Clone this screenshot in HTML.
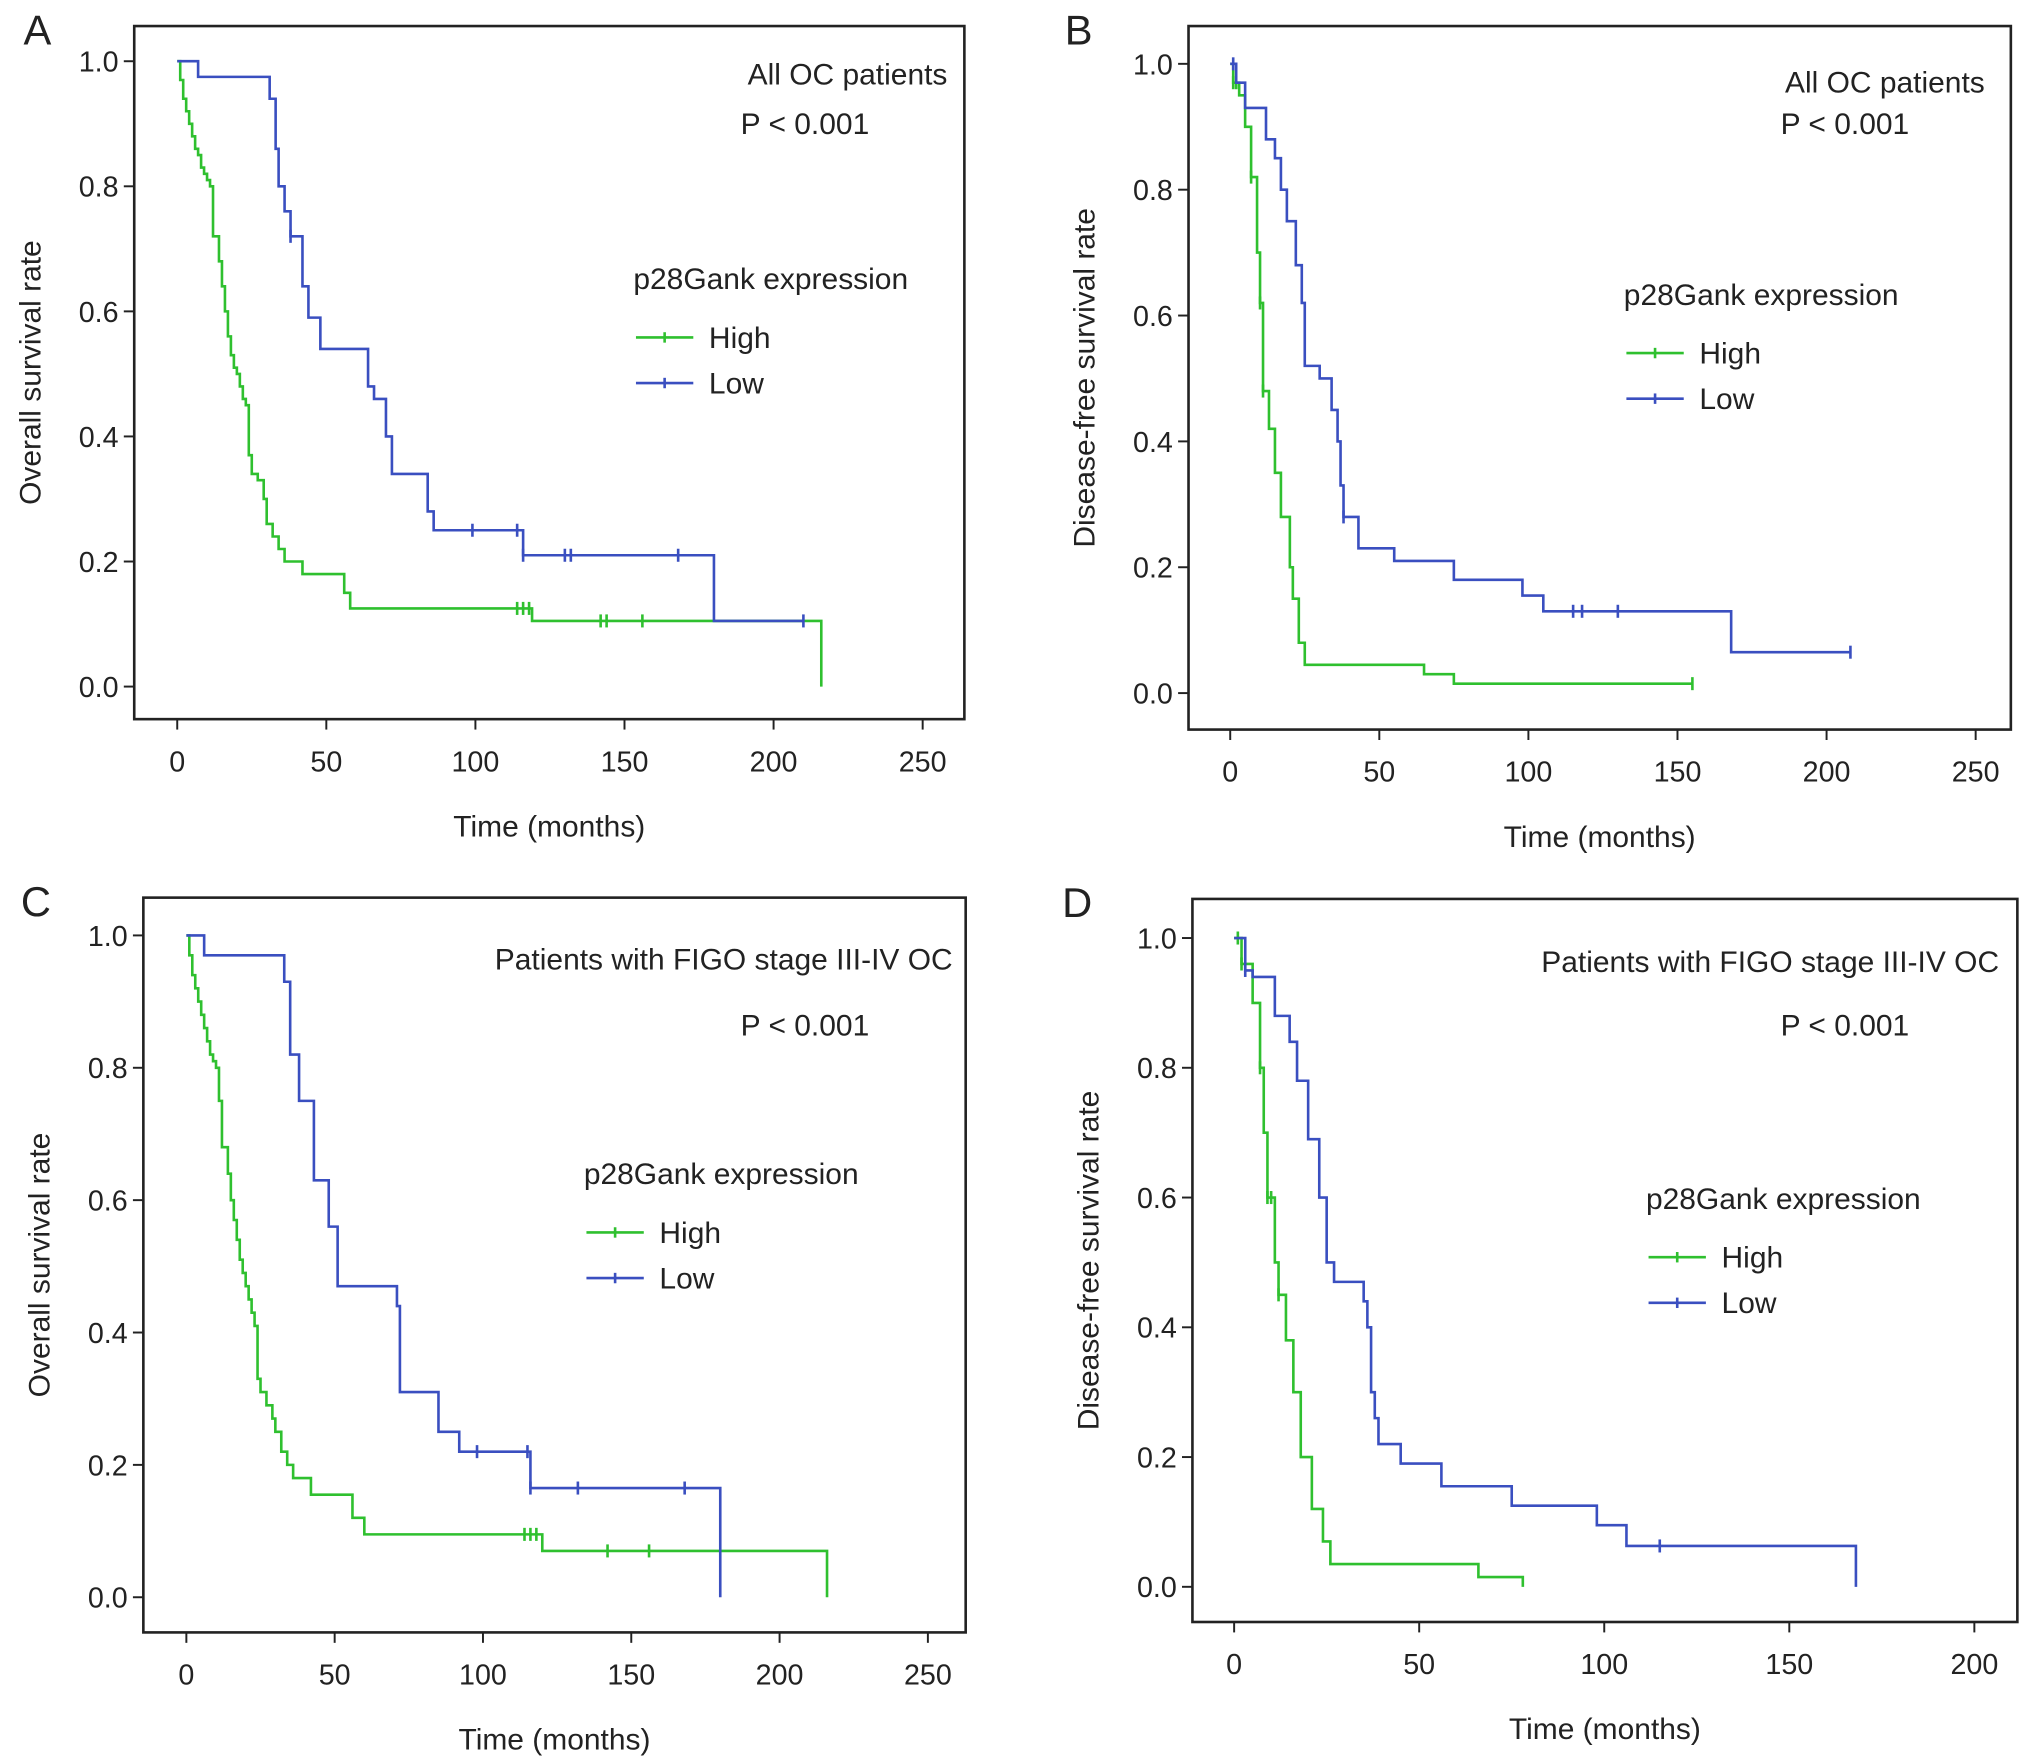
<!DOCTYPE html>
<html><head><meta charset="utf-8"><style>
html,body{margin:0;padding:0;background:#fff}
svg{display:block}
text{font-family:"Liberation Sans",sans-serif;fill:#222}
</style></head><body>
<svg id="fig" width="2033" height="1764" viewBox="0 0 1560 1354" preserveAspectRatio="none" xmlns="http://www.w3.org/2000/svg"></svg>
<script>
// Panel A data (Overall survival, all OC)
const aHighT=[0,1,2,3,4,5,6,7,8,9,10,11,12,14,15,16,17,18,19,20,21,22,23,24,25,27,29,30,32,34,36,42,56,58,119,216];
const aHighS=[1.0,0.97,0.94,0.92,0.90,0.88,0.86,0.85,0.83,0.82,0.81,0.80,0.72,0.68,0.64,0.60,0.56,0.53,0.51,0.50,0.48,0.46,0.45,0.37,0.34,0.33,0.30,0.26,0.24,0.22,0.20,0.18,0.15,0.125,0.105,0.0];
const aHighC=[114,116,118,142,144,156];
const aLowT=[0,7,31,33,34,36,38,42,44,48,52,64,66,70,72,84,86,92,116,180,210];
const aLowS=[1.0,0.975,0.94,0.86,0.80,0.76,0.72,0.64,0.59,0.54,0.54,0.48,0.46,0.40,0.34,0.28,0.25,0.25,0.21,0.105,0.105];
const aLowC=[38,99,114,116,130,132,168,210];
// Panel B data (DFS, all OC)
const bHighT=[0,1,3,5,7,9,10,11,13,15,17,20,21,23,25,65,75,155];
const bHighS=[1.0,0.97,0.95,0.90,0.82,0.70,0.62,0.48,0.42,0.35,0.28,0.20,0.15,0.08,0.045,0.03,0.015,0.015];
const bHighC=[1,2,7,10,11,155];
const bLowT=[0,2,5,12,15,17,19,22,24,25,30,34,36,37,38,43,55,75,98,105,168,208];
const bLowS=[1.0,0.97,0.93,0.88,0.85,0.80,0.75,0.68,0.62,0.52,0.50,0.45,0.40,0.33,0.28,0.23,0.21,0.18,0.155,0.13,0.065,0.065];
const bLowC=[1,38,115,118,130,208];
// Panel C data (OS, FIGO III-IV)
const cHighT=[0,1,2,3,4,5,6,7,8,9,10,11,12,14,15,16,17,18,19,20,21,22,23,24,25,27,29,30,32,34,36,42,56,60,120,216];
const cHighS=[1.0,0.97,0.94,0.92,0.90,0.88,0.86,0.84,0.82,0.81,0.80,0.75,0.68,0.64,0.60,0.57,0.54,0.51,0.49,0.47,0.45,0.43,0.41,0.33,0.31,0.29,0.27,0.25,0.22,0.20,0.18,0.155,0.12,0.095,0.07,0.0];
const cHighC=[114,116,118,142,156];
const cLowT=[0,6,33,35,38,43,48,51,64,71,72,84,85,92,116,180];
const cLowS=[1.0,0.97,0.93,0.82,0.75,0.63,0.56,0.47,0.47,0.44,0.31,0.31,0.25,0.22,0.165,0.0];
const cLowC=[98,115,116,132,168];
// Panel D data (DFS, FIGO III-IV)
const dHighT=[0,2,5,7,8,9,11,12,14,16,18,21,24,26,66,78];
const dHighS=[1.0,0.96,0.90,0.80,0.70,0.60,0.50,0.45,0.38,0.30,0.20,0.12,0.07,0.035,0.015,0.0];
const dHighC=[1,2,7,9,10,12];
const dLowT=[0,3,5,11,15,17,20,23,25,27,32,35,36,37,38,39,45,56,75,98,106,168];
const dLowS=[1.0,0.95,0.94,0.88,0.84,0.78,0.69,0.60,0.50,0.47,0.47,0.44,0.40,0.30,0.26,0.22,0.19,0.155,0.125,0.095,0.063,0.0];
const dLowC=[3,115];
const yTicks=[0,0.2,0.4,0.6,0.8,1.0];
const yTickLabels=["0.0","0.2","0.4","0.6","0.8","1.0"];

const NS="http://www.w3.org/2000/svg";
const svg=document.getElementById('fig');
function el(tag,attrs,parent,txt){const e=document.createElementNS(NS,tag);for(const k in attrs)e.setAttribute(k,attrs[k]);if(txt!==undefined)e.textContent=txt;(parent||svg).appendChild(e);return e;}
const GREEN="#2fc02f",BLUE="#3a4fc0";

function panel(p){
  const g=el('g',{});
  
  
  const x=t=>p.x0+t*p.xs, y=s=>p.y0-s*p.ys;
  const box=el('rect',{x:p.bx,y:p.by,width:p.bw,height:p.bh,fill:'none',stroke:'#222','stroke-width':2},g);
  
  const lab=el('text',{x:p.lx,y:p.by+14,'font-size':32},g,p.id);
  
  yTicks.forEach((v,i)=>{
    el('line',{x1:p.bx-8,x2:p.bx,y1:y(v),y2:y(v),stroke:'#222','stroke-width':1.5},g);
    const t=el('text',{x:p.bx-12,y:y(v)+8,'font-size':22,'text-anchor':'end'},g,yTickLabels[i]);
    
  });
  p.xt.forEach(v=>{
    el('line',{x1:x(v),x2:x(v),y1:p.by+p.bh,y2:p.by+p.bh+8,stroke:'#222','stroke-width':1.5},g);
    const t=el('text',{x:x(v),y:p.by+p.bh+40,'font-size':22,'text-anchor':'middle'},g,String(v));
    
  });
  const xt=el('text',{x:p.bx+p.bw/2,y:p.by+p.bh+90,'font-size':23,'text-anchor':'middle'},g,'Time (months)');
  
  const cy=p.by+p.bh/2, cx=p.bx-72;
  const yt=el('text',{x:cx,y:cy,'font-size':23,'text-anchor':'middle',transform:`rotate(-90 ${cx} ${cy})`},g,p.ytitle);
  
  p.ann.forEach(a=>{const t=el('text',{x:a[0],y:a[1],'font-size':23,'text-anchor':'end'},g,a[2]);
    });
  const L=p.leg;
  const lt=el('text',{x:L[0],y:L[1],'font-size':23,fill:'#444'},g,'p28Gank expression');
  
  [['High',GREEN],['Low',BLUE]].forEach((e,i)=>{
    const yy=L[1]+37+i*35;
    const lg=el('g',{},g);
    
    el('line',{x1:L[0]+2,x2:L[0]+46,y1:yy,y2:yy,stroke:e[1],'stroke-width':2},lg);
    el('line',{x1:L[0]+24,x2:L[0]+24,y1:yy-4,y2:yy+4,stroke:e[1],'stroke-width':2},lg);
    el('text',{x:L[0]+58,y:yy+8,'font-size':23},lg,e[0]);
  });
  [[p.hT,p.hS,p.hC,GREEN,'high'],[p.lT,p.lS,p.lC,BLUE,'low']].forEach(s=>{
    const [T,S,C,col,nm]=s;
    let d=`M${x(T[0])},${y(S[0])}`;
    for(let i=1;i<T.length;i++){d+=` H${x(T[i])} V${y(S[i])}`;}
    const path=el('path',{d,fill:'none',stroke:col,'stroke-width':2},g);
    
    C.forEach(c=>{
      let sv=S[0];for(let i=0;i<T.length;i++){if(T[i]<=c)sv=S[i];}
      const m=el('line',{x1:x(c),x2:x(c),y1:y(sv)-5,y2:y(sv)+5,stroke:col,'stroke-width':2},g);
      
    });
  });
}
panel({id:'A',lx:18,bx:103,by:20,bw:637,bh:532,x0:136,xs:2.288,y0:527,ys:480,xt:[0,50,100,150,200,250],
 ytitle:'Overall survival  rate',ann:[[727,65,'All OC patients'],[667,103,'P < 0.001']],leg:[486,222],
 hT:aHighT,hS:aHighS,hC:aHighC,lT:aLowT,lS:aLowS,lC:aLowC});
panel({id:'B',lx:817,bx:912,by:20,bw:631,bh:540,x0:944,xs:2.288,y0:532,ys:483,xt:[0,50,100,150,200,250],
 ytitle:'Disease-free survival  rate',ann:[[1523,71,'All OC patients'],[1465,103,'P < 0.001']],leg:[1246,234],
 hT:bHighT,hS:bHighS,hC:bHighC,lT:bLowT,lS:bLowS,lC:bLowC});
panel({id:'C',lx:16,bx:110,by:689,bw:631,bh:564,x0:143,xs:2.276,y0:1226,ys:508,xt:[0,50,100,150,200,250],
 ytitle:'Overall survival   rate',ann:[[731,744,'Patients with FIGO stage III-IV OC'],[667,795,'P < 0.001']],leg:[448,909],
 hT:cHighT,hS:cHighS,hC:cHighC,lT:cLowT,lS:cLowS,lC:cLowC});
panel({id:'D',lx:815,bx:915,by:690,bw:633,bh:555,x0:947,xs:2.84,y0:1218,ys:498,xt:[0,50,100,150,200],
 ytitle:'Disease-free survival  rate',ann:[[1534,746,'Patients with FIGO stage III-IV OC'],[1465,795,'P < 0.001']],leg:[1263,928],
 hT:dHighT,hS:dHighS,hC:dHighC,lT:dLowT,lS:dLowS,lC:dLowC});
</script>
</body></html>
